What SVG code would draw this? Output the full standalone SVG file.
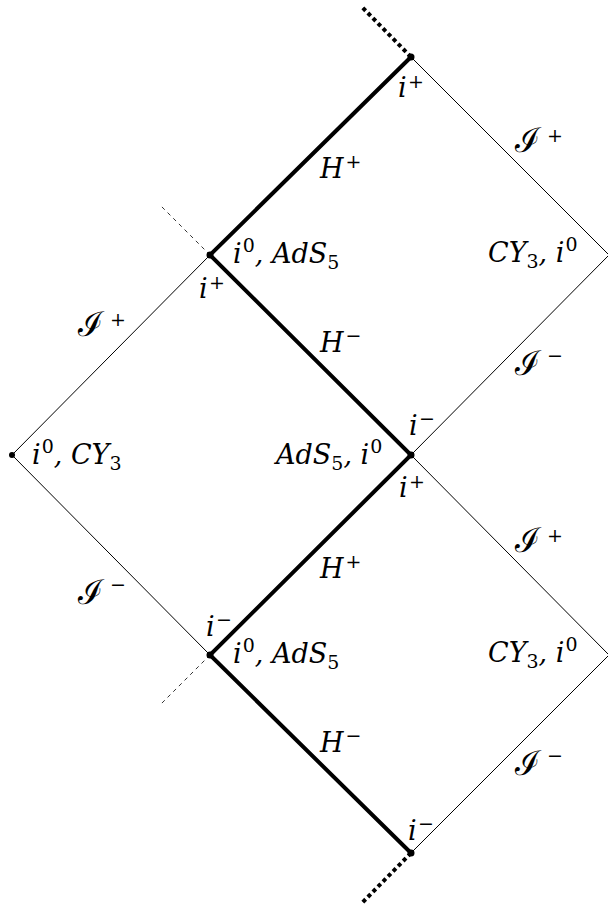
<svg xmlns="http://www.w3.org/2000/svg" width="608" height="907" viewBox="0 0 608 907">
<style>
.thin{stroke:#000;stroke-width:1;fill:none}
.thick{stroke:#000;stroke-width:4;fill:none;stroke-linecap:round;stroke-linejoin:miter}
.dash{stroke:#000;stroke-width:0.8;fill:none;stroke-dasharray:4,4}
.dot{stroke:#000;stroke-width:4;fill:none;stroke-dasharray:4,3.2}
text{font-family:"DejaVu Serif",serif;font-style:italic;font-size:27px;fill:#000}
.s{font-size:19px;font-style:normal}
.scr{font-size:34px;font-style:normal}
</style>
<rect width="608" height="907" fill="#fff"/>
<g id="connectors">
<path class="thin" d="M411,57 L609,255 L411,455 L609,655 L411,853"/>
<path class="thin" d="M210,255 L12,455 L210,655"/>
<path class="thin" d="M210,255 L411,455 M210,655 L411,455"/>
<path class="thick" d="M411,57 L210,255 L411,455 L210,655 L411,853"/>
<path class="dash" d="M210,255 L160,205 M210,655 L160,705"/>
<path class="dot" d="M411,57 L361,6 M411,853 L361,904"/>
</g>
<g id="n1"><circle cx="411" cy="57" r="3.5"/><text x="398" y="97">i<tspan class="s" x="408" y="88">+</tspan></text></g>
<g id="n2"><circle cx="210" cy="255" r="3.5"/><text x="199" y="298">i<tspan class="s" x="209" y="289">+</tspan></text></g>
<g id="n3"><circle cx="411" cy="455" r="3.5"/><text x="409" y="435">i<tspan class="s" x="419" y="425">−</tspan></text><text x="399" y="497">i<tspan class="s" x="409" y="488">+</tspan></text></g>
<g id="n4"><circle cx="12" cy="455" r="3"/></g>
<g id="n5"><circle cx="210" cy="655" r="3.5"/><text x="206" y="636">i<tspan class="s" x="216" y="626">−</tspan></text></g>
<g id="n6"><circle cx="411" cy="853" r="3.5"/><text x="408" y="840">i<tspan class="s" x="418" y="830">−</tspan></text></g>
<g id="regions">
<text x="233" y="263">i<tspan class="s" dx="1" dy="-11">0</tspan><tspan dy="11">, AdS</tspan><tspan class="s" dy="6">5</tspan></text>
<text x="488" y="262">CY<tspan class="s" dy="6">3</tspan><tspan dy="-6">,  i</tspan><tspan class="s" dx="1" dy="-11">0</tspan></text>
<text x="32" y="464">i<tspan class="s" dx="1" dy="-11">0</tspan><tspan dy="11">, CY</tspan><tspan class="s" dy="6">3</tspan></text>
<text x="276" y="464">AdS<tspan class="s" dy="6">5</tspan><tspan dy="-6">,  i</tspan><tspan class="s" dx="1" dy="-11">0</tspan></text>
<text x="233" y="663">i<tspan class="s" dx="1" dy="-11">0</tspan><tspan dy="11">, AdS</tspan><tspan class="s" dy="6">5</tspan></text>
<text x="488" y="662">CY<tspan class="s" dy="6">3</tspan><tspan dy="-6">,  i</tspan><tspan class="s" dx="1" dy="-11">0</tspan></text>
</g>
<g id="horizons">
<text x="320" y="178">H<tspan class="s" dx="2" dy="-10">+</tspan></text>
<text x="320" y="352">H<tspan class="s" dx="2" dy="-10">−</tspan></text>
<text x="320" y="578">H<tspan class="s" dx="2" dy="-10">+</tspan></text>
<text x="320" y="752">H<tspan class="s" dx="2" dy="-10">−</tspan></text>
</g>
<g id="scri">
<text x="515" y="152"><tspan class="scr">ℐ</tspan><tspan class="s" x="547" y="142">+</tspan></text>
<text x="78" y="336"><tspan class="scr">ℐ</tspan><tspan class="s" x="110" y="326">+</tspan></text>
<text x="515" y="375"><tspan class="scr">ℐ</tspan><tspan class="s" x="547" y="362">−</tspan></text>
<text x="515" y="552"><tspan class="scr">ℐ</tspan><tspan class="s" x="547" y="542">+</tspan></text>
<text x="78" y="604"><tspan class="scr">ℐ</tspan><tspan class="s" x="110" y="591">−</tspan></text>
<text x="515" y="775"><tspan class="scr">ℐ</tspan><tspan class="s" x="547" y="762">−</tspan></text>
</g>
</svg>
